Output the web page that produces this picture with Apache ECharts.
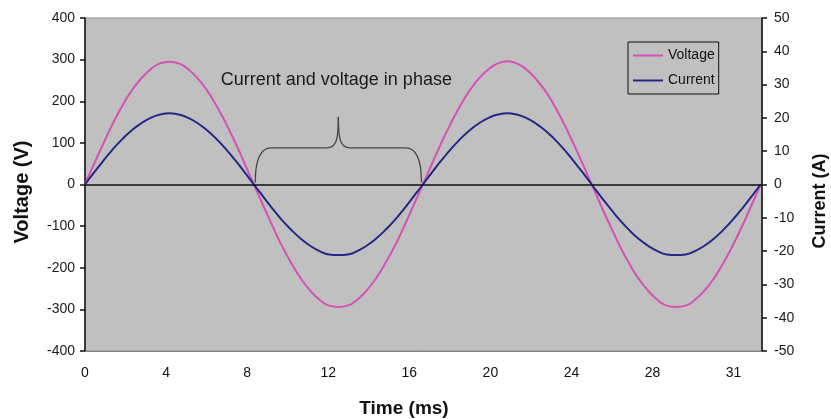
<!DOCTYPE html>
<html>
<head>
<meta charset="utf-8">
<script src="https://cdn.jsdelivr.net/npm/echarts@6/dist/echarts.min.js"></script>
<style>
html,body{margin:0;padding:0;background:#fff;}
#chart{width:831px;height:419px;}
</style>
</head>
<body>
<div id="chart"></div>
<script>
// Time samples (ms)
const times = [0,0.46,0.93,1.39,1.85,2.31,2.78,3.24,3.70,4.17,4.63,5.09,5.56,6.02,6.48,6.94,7.41,7.87,
  8.33,8.80,9.26,9.72,10.19,10.65,11.11,11.57,12.04,12.50,12.96,13.43,13.89,14.35,14.81,15.28,15.74,16.20,
  16.67,17.13,17.59,18.06,18.52,18.98,19.44,19.91,20.37,20.83,21.30,21.76,22.22,22.69,23.15,23.61,24.07,24.54,
  25.00,25.46,25.93,26.39,26.85,27.31,27.78,28.24,28.70,29.17,29.63,30.09,30.56,31.02,31.48,31.94,32.41,32.87,33.33];
// Voltage (V)
const voltage = [0,51,101,148,190,226,255,277,291,295,291,277,255,226,190,148,101,51,
  0,-51,-101,-148,-190,-226,-255,-277,-291,-294,-291,-277,-255,-226,-190,-148,-101,-51,
  0,51,101,148,190,226,255,277,291,296,291,277,255,226,190,148,101,51,
  0,-51,-101,-148,-190,-226,-255,-277,-291,-294,-291,-277,-255,-226,-190,-148,-101,-51,0];
// Current (A)
const current = [0,3.7,7.3,10.7,13.7,16.3,18.4,20.0,21.0,21.4,21.0,20.0,18.4,16.3,13.7,10.7,7.3,3.7,
  0,-3.7,-7.3,-10.7,-13.7,-16.3,-18.4,-20.0,-21.0,-21.2,-21.0,-20.0,-18.4,-16.3,-13.7,-10.7,-7.3,-3.7,
  0,3.7,7.3,10.7,13.7,16.3,18.4,20.0,21.0,21.4,21.0,20.0,18.4,16.3,13.7,10.7,7.3,3.7,
  0,-3.7,-7.3,-10.7,-13.7,-16.3,-18.4,-20.0,-21.0,-21.2,-21.0,-20.0,-18.4,-16.3,-13.7,-10.7,-7.3,-3.7,0];
const xTickLabels = ['0','4','8','12','16','20','24','28','31'];
const seriesNames = ['Voltage', 'Current'];
const xTitle = 'Time (ms)';
const yLeftTitle = 'Voltage (V)';
const yRightTitle = 'Current (A)';
const annotationText = 'Current and voltage in phase';
// annotation anchor in data coords [time, voltage]
const annotationPos = [12.4, 251];
const braceTimes = [8.4, 12.5, 16.6];
const braceLevels = [5, 88, 162]; // bottom, bar, tip (V)

const FONT = '"Liberation Sans", Arial, sans-serif';
const chart = echarts.init(document.getElementById('chart'));
const option = {
  backgroundColor: '#ffffff',
  animation: false,
  grid: {left: 85, right: 69, top: 18, bottom: 68, show: true, backgroundColor: '#c0c0c0', borderColor: '#8a8a8a', borderWidth: 1},
  legend: {
    orient: 'vertical', left: 628, top: 42,
    borderColor: '#111', borderWidth: 1, padding: [5, 4, 5, 5], itemGap: 8,
    itemWidth: 30, itemHeight: 2, icon: 'rect',
    textStyle: {fontFamily: FONT, fontSize: 14, color: '#111', lineHeight: 17},
    data: seriesNames
  },
  xAxis: {
    type: 'value', min: 0, max: 33.4, interval: 4,
    axisLine: {onZero: false, lineStyle: {color: '#808080', width: 1}},
    axisTick: {show: false},
    splitLine: {show: false},
    axisLabel: {fontFamily: FONT, fontSize: 14, color: '#111', margin: 15, showMaxLabel: false,
      formatter: v => { const i = Math.round(v / 4); return (Math.abs(v - i*4) < 0.01 && xTickLabels[i] !== undefined) ? xTickLabels[i] : ''; }}
  },
  yAxis: [{
    type: 'value', min: -400, max: 400, interval: 100, position: 'left',
    axisLine: {show: true, onZero: false, lineStyle: {color: '#111', width: 1.5}},
    axisTick: {show: true, length: 5, lineStyle: {color: '#111', width: 1.5}},
    splitLine: {show: false},
    axisLabel: {fontFamily: FONT, fontSize: 14, color: '#1a1a1a', margin: 10}
  }, {
    type: 'value', min: -50, max: 50, interval: 10, position: 'right',
    axisLine: {show: true, onZero: false, lineStyle: {color: '#111', width: 1.5}},
    axisTick: {show: true, length: 5, lineStyle: {color: '#111', width: 1.5}},
    splitLine: {show: false},
    axisLabel: {fontFamily: FONT, fontSize: 14, color: '#1a1a1a', margin: 12}
  }],
  series: [{
    name: seriesNames[0], type: 'line', yAxisIndex: 0,
    data: times.map((t, i) => [t, voltage[i]]),
    smooth: true, showSymbol: false, symbol: 'none',
    lineStyle: {color: '#d452b5', width: 2}, itemStyle: {color: '#d452b5'},
    markLine: {silent: true, symbol: 'none', label: {show: false},
      lineStyle: {color: '#111', width: 1.5, type: 'solid'}, data: [{yAxis: 0}]},
    z: 3
  }, {
    name: seriesNames[1], type: 'line', yAxisIndex: 1,
    data: times.map((t, i) => [t, current[i]]),
    smooth: true, showSymbol: false, symbol: 'none',
    lineStyle: {color: '#262687', width: 2}, itemStyle: {color: '#262687'},
    z: 4
  }]
};
chart.setOption(option);

const px = (t, v) => chart.convertToPixel({xAxisIndex: 0, yAxisIndex: 0}, [t, v]);
const [bL, bM, bR] = braceTimes;
const [yB, yH, yT] = braceLevels;
const pL = px(bL, yB), pLc = px(bL, yH), pM = px(bM, yT), pMh = px(bM, yH), pR = px(bR, yB), pRc = px(bR, yH);
const r = 16, m = 12;
const st = {stroke: '#444', lineWidth: 1.3, fill: null};
const ap = px(annotationPos[0], annotationPos[1]);
const titleStyle = (text, size) => ({text, fontFamily: FONT, fontSize: size, fontWeight: 'bold', fill: '#111', align: 'center', verticalAlign: 'middle'});
chart.setOption({
  graphic: [
    {type: 'bezierCurve', shape: {x1: pL[0], y1: pL[1], cpx1: pLc[0], cpy1: pLc[1], x2: pLc[0] + r, y2: pLc[1]}, style: st, z: 10},
    {type: 'line', shape: {x1: pLc[0] + r, y1: pLc[1], x2: pMh[0] - m, y2: pMh[1]}, style: st, z: 10},
    {type: 'bezierCurve', shape: {x1: pMh[0] - m, y1: pMh[1], cpx1: pMh[0] - 2, cpy1: pMh[1], cpx2: pM[0], cpy2: pMh[1] - 8, x2: pM[0], y2: pM[1]}, style: st, z: 10},
    {type: 'bezierCurve', shape: {x1: pM[0], y1: pM[1], cpx1: pM[0], cpy1: pMh[1] - 8, cpx2: pMh[0] + 2, cpy2: pMh[1], x2: pMh[0] + m, y2: pMh[1]}, style: st, z: 10},
    {type: 'line', shape: {x1: pMh[0] + m, y1: pMh[1], x2: pRc[0] - r, y2: pRc[1]}, style: st, z: 10},
    {type: 'bezierCurve', shape: {x1: pRc[0] - r, y1: pRc[1], cpx1: pRc[0], cpy1: pRc[1], x2: pR[0], y2: pR[1]}, style: st, z: 10},
    {type: 'text', x: ap[0], y: ap[1],
      style: {text: annotationText, fontFamily: FONT, fontSize: 18, fill: '#1a1a1a', align: 'center', verticalAlign: 'middle'}, z: 10},
    {type: 'text', x: 404, y: 409, style: titleStyle(xTitle, 19), z: 10},
    {type: 'text', x: 22, y: 192, rotation: Math.PI / 2, style: titleStyle(yLeftTitle, 20), z: 10},
    {type: 'text', x: 820, y: 201, rotation: Math.PI / 2, style: titleStyle(yRightTitle, 18), z: 10}
  ]
});
</script>
</body>
</html>
